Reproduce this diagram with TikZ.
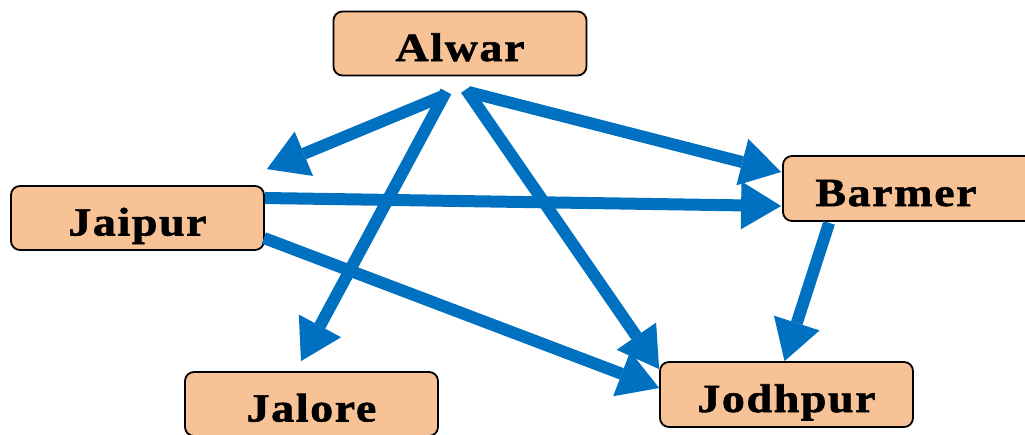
\documentclass[tikz,border=0pt]{standalone}
\usepackage{fontspec}
\setmainfont{Liberation Serif}[LetterSpace=4,FakeStretch=1.15,BoldFeatures={FakeBold=1.4,FakeStretch=1.15,LetterSpace=4}]
\usetikzlibrary{arrows.meta}
\definecolor{peach}{HTML}{F8C297}
\definecolor{arrowblue}{HTML}{0070C0}
\tikzset{
  box/.style={draw=black, line width=1.8pt, fill=peach, rounded corners=9pt,
    minimum width=253pt, minimum height=64pt, inner sep=0pt,
    text height=35pt, text depth=0pt,
    font=\fontsize{40}{42}\selectfont\bfseries},
  lbl/.style={inner sep=0pt, text height=35pt, text depth=0pt,
    font=\fontsize{40}{42}\selectfont\bfseries},
  arr/.style={draw=arrowblue, line width=12pt,
    -{Triangle[length=40pt,width=48pt,line width=0pt]}, arrowblue}
}
\begin{document}
\begin{tikzpicture}[x=1pt,y=-1pt]
\useasboundingbox (0,0) rectangle (1025,434);
\node[box] (alwar) at (460,43.5) {Alwar};
\node[box] (jaipur) at (137.5,218) {Jaipur};
\node[box, minimum width=262pt, minimum height=65pt] (barmer) at (914,188.5) {};
\node[lbl] (barmertext) at (896,188.5) {Barmer};
\node[box] (jalore) at (311.5,404) {Jalore};
\node[box, minimum height=65pt] (jodhpur) at (786.5,394.5) {Jodhpur};
% arrows
\draw[arr] ([xshift=-18pt,yshift=-20pt]alwar.south) -- ([xshift=2pt,yshift=16pt]jaipur.north east);
\draw[arr] ([xshift=-14pt,yshift=-15pt]alwar.south) -- ([xshift=-10.5pt,yshift=10pt]jalore.north);
\draw[arr] ([xshift=6pt,yshift=-13pt]alwar.south) -- ([yshift=-8pt]jodhpur.north west);
\draw[arr] ([xshift=10pt,yshift=-16pt]alwar.south) -- ([xshift=-1pt,yshift=16.5pt]barmer.west);
\draw[arr] ([yshift=20pt]jaipur.east) -- ([xshift=-1pt,yshift=-17.5pt]barmer.west);
\draw[arr] ([xshift=-1pt,yshift=-20pt]jaipur.east) -- ([yshift=6.5pt]jodhpur.west);
\draw[arr] ([xshift=47pt,yshift=-1pt]barmer.south west) -- ([xshift=-2pt]jodhpur.north);
\end{tikzpicture}
\end{document}
